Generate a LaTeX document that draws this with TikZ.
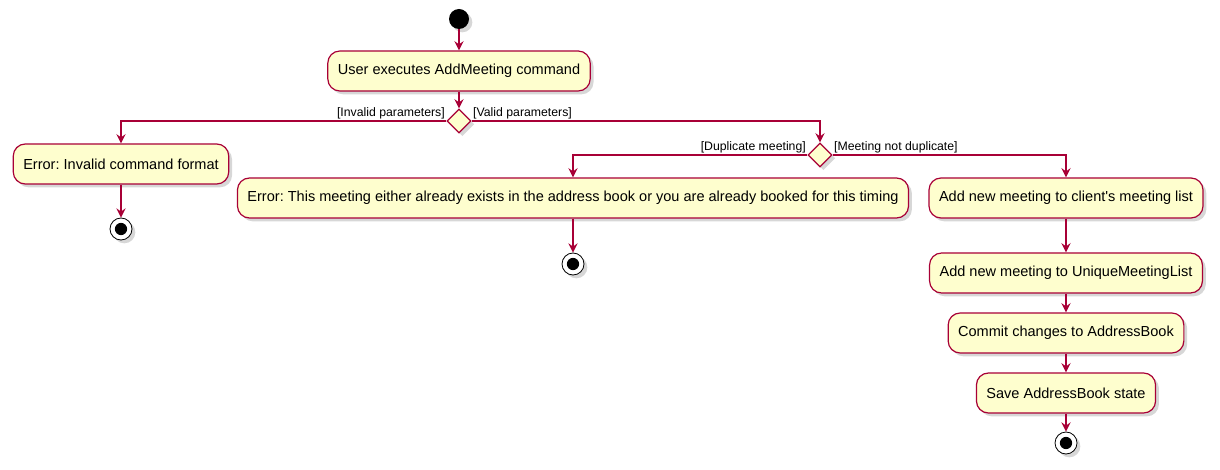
\documentclass[tikz,border=0pt]{standalone}
\usepackage{fontspec}
\setmainfont{Liberation Sans}
\usetikzlibrary{shapes,arrows,positioning,calc,arrows.meta,shadows}
\definecolor{umlred}{HTML}{A80036}
\definecolor{umlfill}{HTML}{FEFECE}
\frenchspacing
\tikzset{
  umlshadow/.style={drop shadow={shadow xshift=2.5pt, shadow yshift=-2.5pt, fill=black!35, opacity=0.45}},
  action/.style={draw=umlred, fill=umlfill, rounded corners=9pt, line width=0.9pt,
    minimum height=30pt, inner xsep=7.5pt, font=\fontsize{10.9}{13}\selectfont, umlshadow},
  choice/.style={draw=umlred, fill=umlfill, diamond, line width=0.9pt, inner sep=0pt,
    minimum width=18pt, minimum height=18pt, umlshadow},
  startnode/.style={circle, fill=black, inner sep=0pt, minimum size=15pt, umlshadow},
  endnode/.style={circle, draw=black, fill=white, line width=0.6pt, inner sep=0pt, minimum size=16.5pt, umlshadow,
    path picture={\fill[black] (path picture bounding box.center) circle (4.6pt);}},
  flow/.style={draw=umlred, line width=0.9pt, -{Stealth[length=7pt, width=7pt, inset=2.5pt]}},
  guard/.style={font=\fontsize{9.2}{11}\selectfont, inner sep=1pt}
}
\begin{document}
\begin{tikzpicture}[x=0.75pt, y=-0.75pt]
    \useasboundingbox (0,0) rectangle (1220,470);

    \node[startnode] (start) at (459,19) {};
    \node[action] (exec) at (459,71) {User executes AddMeeting command};
    \node[choice] (params) at (459,121) {};
    \node[action] (badformat) at (121,164) {Error: Invalid command format};
    \node[endnode] (stopA) at (121,229) {};

    \node[choice] (dup) at (820,155) {};
    \node[action] (duperr) at (573,198) {Error: This meeting either already exists in the address book or you are already booked for this timing};
    \node[endnode] (stopB) at (573,264) {};

    \node[action] (addclient) at (1066,198) {Add new meeting to client\textquotesingle s meeting list};
    \node[action] (addunique) at (1066,273) {Add new meeting to UniqueMeetingList};
    \node[action] (commit) at (1066,333) {Commit changes to AddressBook};
    \node[action] (save) at (1066,393) {Save AddressBook state};
    \node[endnode] (stopC) at (1066,443) {};

    \draw[flow] (start) -- (exec);
    \draw[flow] (exec) -- (params);
    \draw[flow] (params.west) -| (badformat.north);
    \draw[flow] (badformat) -- (stopA);
    \draw[flow] (params.east) -| (dup.north);
    \draw[flow] (dup.west) -| (duperr.north);
    \draw[flow] (duperr) -- (stopB);
    \draw[flow] (dup.east) -| (addclient.north);
    \draw[flow] (addclient) -- (addunique);
    \draw[flow] (addunique) -- (commit);
    \draw[flow] (commit) -- (save);
    \draw[flow] (save) -- (stopC);

    % guards
    \node[guard, anchor=south east] (g1) at (params.west) {[Invalid parameters]};
    \node[guard, anchor=south west] (g2) at (params.east) {[Valid parameters]};
    \node[guard, anchor=south east] (g3) at (dup.west) {[Duplicate meeting]};
    \node[guard, anchor=south west] (g4) at (dup.east) {[Meeting not duplicate]};
\end{tikzpicture}
\end{document}
